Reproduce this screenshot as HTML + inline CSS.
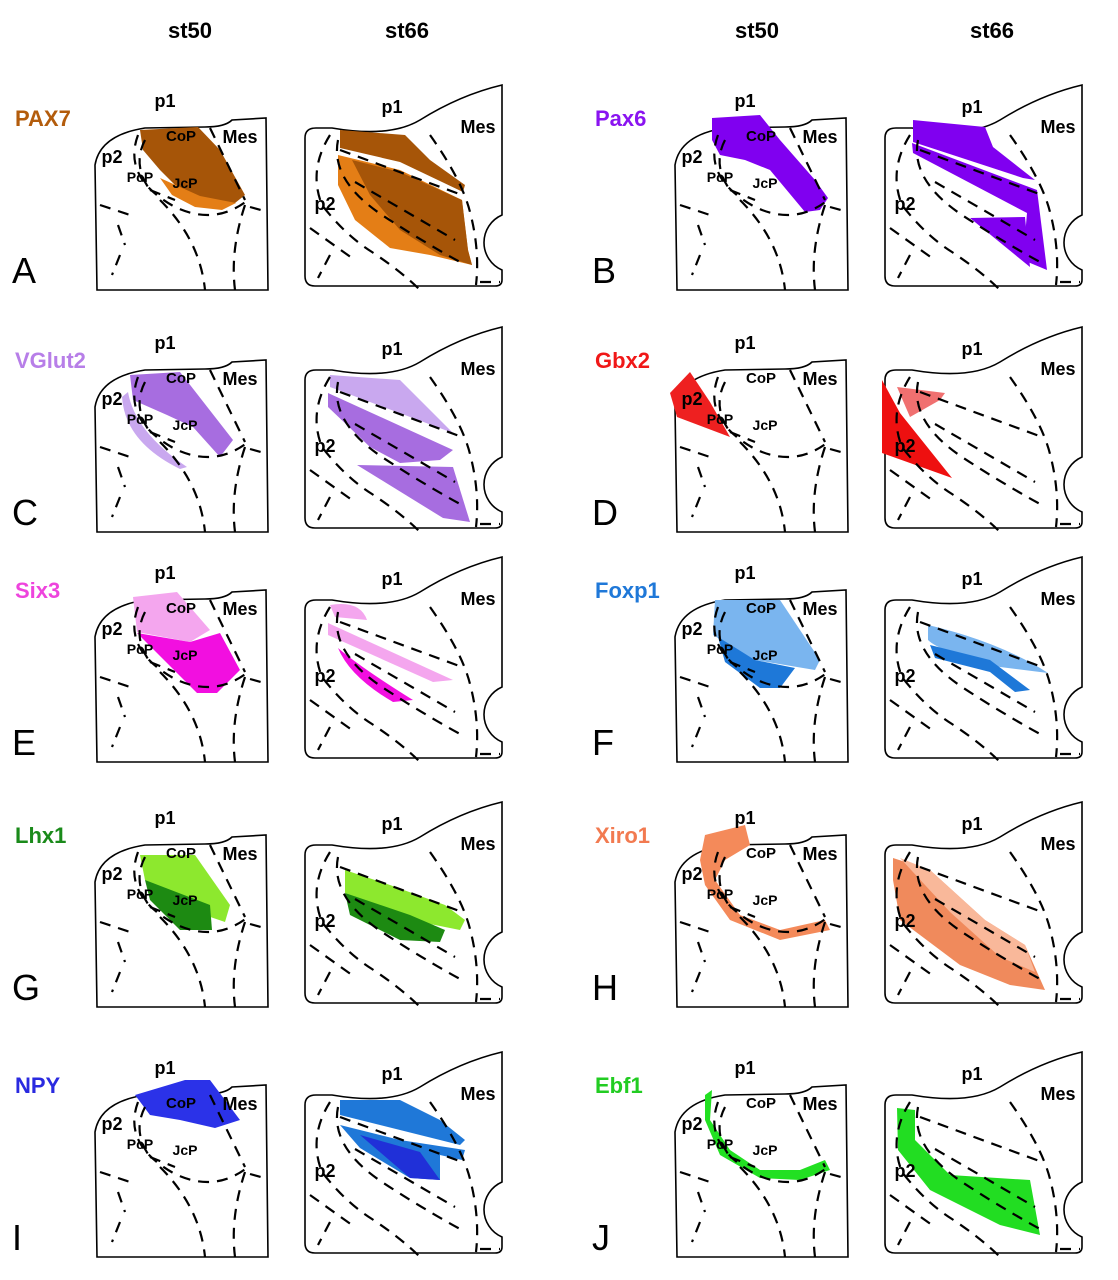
<!DOCTYPE html>
<html><head><meta charset="utf-8"><style>
html,body{margin:0;padding:0;background:#fff;}
svg{display:block;font-family:"Liberation Sans",sans-serif;}
</style></head><body>
<svg id="fig" width="1118" height="1280" viewBox="0 0 1118 1280">
<g font-weight="bold" font-size="22" text-anchor="middle">
<text x="190" y="38">st50</text>
<text x="407" y="38">st66</text>
<text x="757" y="38">st50</text>
<text x="992" y="38">st66</text>
</g>
</svg>
<script>
// panel layout data
const genes = ["PAX7","Pax6","VGlut2","Gbx2","Six3","Foxp1","Lhx1","Xiro1","NPY","Ebf1"];
const letters = ["A","B","C","D","E","F","G","H","I","J"];
const geneColors = ["#b35c0c","#8a14f0","#b77ee8","#f01818","#ee44dd","#1f78d8","#1a8a1a","#f27a50","#2a2ae0","#22cc22"];
const rowOffsets = [0,242,472,717,967];
const colOffsets = [0,580];
// blobs per panel: [st50 blobs, st66 blobs], each [color, path] in panel-A frame
const blobs = [
 [[["#a65508","M140,130 L198,127 L220,150 L245,195 L235,203 L215,205 L185,195 L160,170 L143,150 Z"],["#e47e16","M160,178 L200,196 L236,203 L222,210 L195,207 L172,195 Z"]],
  [["#a65508","M340,130 L405,135 L430,160 L465,185 L463,192 L400,162 L340,148 Z"],["#e47e16","M338,155 L400,170 L462,200 L468,250 L472,265 L430,255 L390,248 L355,220 L338,185 Z"],["#a65508","M352,160 L400,172 L462,200 L468,250 L472,265 L440,255 L400,230 L370,195 Z"]]],
 [[["#8000f0","M132,118 L180,115 L200,140 L235,180 L248,198 L240,210 L225,212 L190,170 L165,160 L140,155 L132,140 Z"]],
  [["#8000f0","M333,120 L405,127 L413,147 L455,180 L443,178 L333,142 Z"],["#8000f0","M332,143 L457,190 L467,270 L443,260 L447,213 L333,153 Z"],["#8000f0","M390,218 L445,217 L450,267 Z"]]],
 [[["#c9a8ef","M128,150 Q135,190 187,225 L180,227 Q125,200 122,155 Z"],["#a76de0","M130,133 L180,130 L233,198 L220,215 L193,185 L167,173 L133,158 Z"]],
  [["#c9a8ef","M330,133 L400,138 L453,191 L330,145 Z"],["#a76de0","M328,151 L453,208 L440,218 L400,221 L370,205 L328,165 Z"],["#a76de0","M357,223 L453,225 L470,280 L443,276 Z"]]],
 [[["#ee2020","M110,130 L90,151 L97,175 L150,195 L130,160 Z"]],
  [["#ee1010","M302,138 L302,211 L372,236 L320,171 Z"],["#f07070","M317,145 L365,151 L360,158 L330,175 Z"]]],
 [[["#f4a6ee","M133,125 L177,120 L210,158 L190,170 L137,160 Z"],["#f20fe0","M137,161 L190,170 L220,161 L240,198 L217,221 L197,221 Z"]],
  [["#f4a6ee","M330,133 Q360,128 367,148 L335,145 Z"],["#f4a6ee","M328,151 L453,208 L433,210 L328,163 Z"],["#f20fe0","M338,176 Q360,195 413,228 L393,230 Q350,205 338,176 Z"]]],
 [[["#7ab5ef","M135,128 L200,128 L240,188 L235,198 L175,188 L133,163 Z"],["#1e78d8","M138,165 L175,188 L215,196 L200,216 L180,216 L145,190 Z"]],
  [["#7ab5ef","M348,153 Q420,170 468,201 L420,195 Q360,180 348,168 Z"],["#1e78d8","M350,173 L410,188 L450,218 L435,220 L410,200 L355,186 Z"]]],
 [[["#8de82e","M140,138 L195,138 L230,188 L225,205 L175,188 L145,163 Z"],["#1d8a12","M145,163 L210,188 L212,213 L180,213 L150,183 Z"]],
  [["#8de82e","M345,153 L390,168 L445,188 L465,203 L460,213 L410,203 L345,176 Z"],["#1d8a12","M345,176 L410,198 L445,213 L440,225 L400,223 L350,198 Z"]]],
 [[["#f48a5a","M125,118 L165,108 L170,128 L145,143 L135,163 L160,198 L200,213 L245,203 L250,213 L200,223 L150,203 L125,168 L120,143 Z"]],
  [["#f08a5c","M313,141 L350,153 L405,203 L445,228 L465,273 L430,268 L380,248 L320,203 L313,163 Z"],["#f9b89a","M320,141 L350,153 L405,203 L445,228 L455,255 L420,240 L370,195 Z"]]],
 [[["#2b32e8","M135,128 L185,113 L210,113 L240,153 L215,161 L180,153 L150,148 Z"]],
  [["#1f78d8","M340,133 L400,133 L440,153 L465,173 L460,178 L400,163 L340,148 Z"],["#1f78d8","M340,158 L400,173 L465,183 L462,193 L440,188 L440,213 L410,211 L360,181 Z"],["#2030d8","M360,168 L420,185 L440,213 L410,211 Z"]]],
 [[["#22e022","M132,123 L130,153 L150,183 L180,203 L220,203 L245,193 L250,203 L220,213 L180,211 L140,188 L125,153 L125,128 Z"]],
  [["#22dd22","M317,141 L335,143 L335,173 L370,208 L450,213 L460,268 L420,258 L350,223 L318,183 Z"]]]
];
const svg = document.getElementById('fig');
const NS = "http://www.w3.org/2000/svg";
function mk(tag, attrs, parent){const e=document.createElementNS(NS,tag);for(const k in attrs)e.setAttribute(k,attrs[k]);parent.appendChild(e);return e;}
const outline50 = "M97,290 L95,165 Q100,135 145,128 L205,127 Q225,127 232,120 L266,118 L268,290 Z";
const outline66 = "M315,286 Q305,286 305,276 L305,138 Q305,128 316,128 L332,128 Q390,138 420,120 Q460,95 502,85 L502,215 A30,30 0 0 0 502,270 L502,280 Q502,286 495,286 Z";
const dash50 = ["M138,135 Q122,178 175,207 Q215,226 248,200","M210,128 L245,200","M245,205 Q230,250 235,290","M160,200 Q200,240 205,290","M100,205 L130,215","M118,225 L125,245","M120,255 L112,275","M150,190 L175,200","M250,207 L268,212","M145,140 Q132,165 150,190"];
const dash66 = ["M330,135 Q308,170 322,205 Q345,235 372,252 Q402,272 420,290","M338,140 Q330,180 382,215 Q420,240 460,262","M430,135 Q462,180 470,212 Q480,250 476,285","M340,150 L462,195","M310,228 L352,258","M330,255 L318,278","M480,282 L500,282","M355,182 L455,240"];
const lab50 = [["p1",165,107],["CoP",181,141],["Mes",240,143],["p2",112,163],["PcP",140,182],["JcP",185,188]];
const lab66 = [["p1",392,113],["Mes",478,133],["p2",325,210]];
for(let i=0;i<10;i++){
  const r=Math.floor(i/2), c=i%2, dx=colOffsets[c], dy=rowOffsets[r];
  const g = mk('g',{transform:`translate(${dx},${dy})`},svg);
  
  
  const gt = mk('text',{x:15,y:126,fill:geneColors[i],'font-weight':'bold','font-size':22},g);
  gt.textContent=genes[i];
  
  
  const lt = mk('text',{x:12,y:283,'font-size':36},g);
  lt.textContent=letters[i];
  
  
  [outline50,outline66].forEach((d,k)=>{
    const o=mk('path',{d:d,fill:'#fff',stroke:'#000','stroke-width':1.6},g);
    
    
  });
  blobs[i].forEach((set,k)=>set.forEach(b=>{
    const p=mk('path',{d:b[1],fill:b[0]},g);
    
    
  }));
  dash50.concat(dash66).forEach(d=>{
    const p=mk('path',{d:d,fill:'none',stroke:'#000','stroke-width':2.2,'stroke-dasharray':'11 8'},g);
    
    
  });
  lab50.concat(lab66).forEach(l=>{
    const t=mk('text',{x:l[1],y:l[2],'text-anchor':'middle','font-weight':'bold','font-size':(l[0]==='PcP'||l[0]==='JcP')?14:(l[0]==='CoP'?15:18)},g);
    t.textContent=l[0];
    
    
  });
}
</script>
</body></html>
